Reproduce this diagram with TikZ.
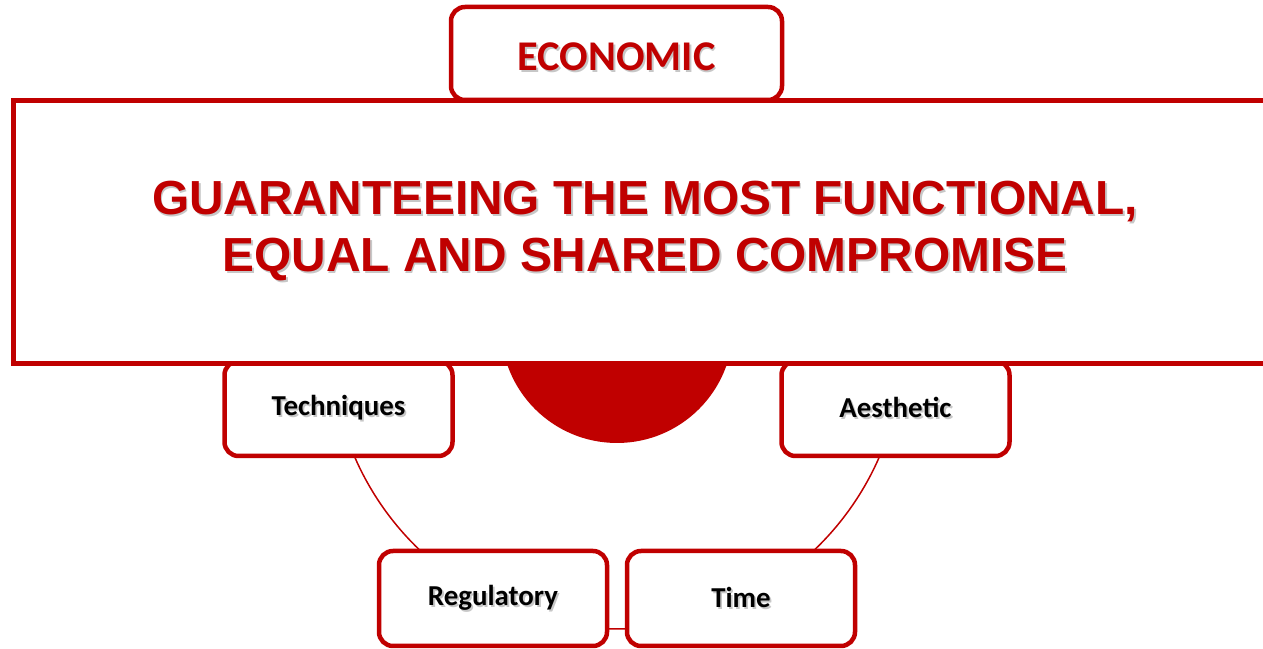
\documentclass[tikz,border=0pt]{standalone}
\usepackage{fontspec}
\setmainfont{Carlito}
\newfontfamily\headfont{Liberation Sans}
\definecolor{deepred}{HTML}{C00000}
% text with a soft drop shadow
\newcommand{\shd}[1]{\makebox[0pt][l]{\kern1.8bp\raisebox{-1.8bp}{\color{black!22}#1}}#1}

\begin{document}
\begin{tikzpicture}[x=1bp,y=1bp,
    box/.style={draw=deepred, line width=4.5bp, rounded corners=14bp, fill=white,
      minimum width=228bp, minimum height=95bp, inner sep=0pt,
      font=\fontsize{29}{35}\selectfont\bfseries},
    ring/.style={draw=deepred, line width=1.5bp}]
    \useasboundingbox (0,0) rectangle (1263,649);
    \clip (0,0) rectangle (1263,649);
    % Ring behind the boxes
    \coordinate (hub) at (617,306);
    \draw[ring] (hub) ++(200:286) arc[start angle=200, end angle=230, radius=286];
    \draw[ring] (hub) ++(260:286) arc[start angle=260, end angle=280, radius=286];
    \draw[ring] (hub) ++(310:286) arc[start angle=310, end angle=340, radius=286];
    % Central disc
    \fill[deepred] (617,322) circle[radius=116];
    % Boxes round the ring
    \node[box] (tech) at (338.5,240.5) {\shd{Techniques}};
    \node[box] (aest) at (895.5,240.5) {\shd{Aesthetic}};
    \node[box] (regu) at (493,50.5) {\shd{Regulatory}};
    \node[box] (time) at (741,50.5) {\shd{Time}};
    \node[box, minimum width=331bp, minimum height=93bp, text=deepred,
      text height=34bp, text depth=0bp,
      font=\fontsize{42.5}{50}\selectfont\bfseries] (econ) at (616.5,595.5) {\shd{ECONOMIC}};
    % Banner on top
    \node[draw=deepred, line width=5bp, fill=white, minimum width=1263bp,
      minimum height=263bp, inner sep=0pt, text=deepred, align=center,
      font=\headfont\bfseries\fontsize{48}{57}\selectfont] (goal) at (645,417)
      {\shd{GUARANTEEING THE MOST FUNCTIONAL,}\\\shd{EQUAL AND SHARED COMPROMISE}};
\end{tikzpicture}
\end{document}
